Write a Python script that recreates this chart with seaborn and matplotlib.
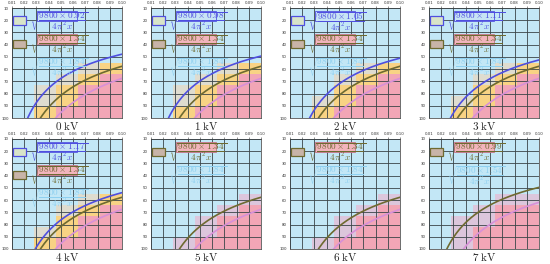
import numpy as np
import matplotlib
matplotlib.use("Agg")
import matplotlib.pyplot as plt
import seaborn as sb
from matplotlib.colors import ListedColormap
from matplotlib.patches import Rectangle

# ---- data ----
titluri = ["0 kV", "1 kV", "2 kV", "3 kV", "4 kV", "5 kV", "6 kV", "7 kV"]
k_albastru = [0.92, 0.98, 1.05, 1.11, 1.17, None, None, None]
k_maslin = [1.34, 1.34, 1.34, 1.34, 1.34, 1.34, 1.34, 0.99]
k_violet = [1.84, 1.84, 1.84, 1.84, 1.84, 1.84, 1.84, 1.54]

x_ticks = [0.01, 0.02, 0.03, 0.04, 0.05, 0.06, 0.07, 0.08, 0.09, 0.10]
y_ticks = [10, 20, 30, 40, 50, 60, 70, 80, 90, 100]
x_celule = [0.01, 0.028, 0.046, 0.064, 0.082, 0.10]
y_celule = [10, 19, 28, 37, 46, 55, 64, 73, 82, 91, 100]

# B blue, G grey, Y yellow, P pink, L lavender (one row per y band, 55..100)
celule = [
    ["BBBGY", "BBGYP", "BGYPP", "BGYPP", "BYPPP"],
    ["BBBGY", "BBGYP", "BGYPP", "BGYPP", "BYPPP"],
    ["BBBGY", "BBGYP", "BBYPP", "BGYPP", "BYPPP"],
    ["BBBGY", "BBGYP", "BBYPP", "BGYPP", "BYPPP"],
    ["BBBGY", "BBGYP", "BBYPP", "BGYPP", "BYPPP"],
    ["BBBBL", "BBBLP", "BBLPP", "BBLPP", "BLPPP"],
    ["BBBBL", "BBBLP", "BBLPP", "BBLPP", "BLPPP"],
    ["BBBLL", "BBLPP", "BLLPP", "BLPPP", "BLPPP"],
]

coduri = {"B": 0, "G": 1, "Y": 2, "P": 3, "L": 4}
culori_celule = ListedColormap(["#c3e7f6", "#dfdccf", "#f8d384", "#f2a6b6", "#dcc6dc"])

c_albastru = "#4f4fe0"
c_maslin = "#6e6a30"
c_violet = "#d890d8"
c_text3 = "#8fd0f0"

plt.rcParams["mathtext.fontset"] = "cm"
sb.set_style("white")

fig = plt.figure(figsize=(5.5, 2.64), dpi=100)

lefts = [12, 151, 290, 429]
bottoms = [118, 249]


def formula(k):
    return r"$\sqrt{\dfrac{9800\times %.2f}{4\pi^2x}}$" % k


def px(y):
    # px from the panel top -> axes fraction
    return 1 - (y - 8) / 110


for i in range(8):
    r, c = divmod(i, 4)
    ax = fig.add_axes([lefts[c] / 550, 1 - bottoms[r] / 264, 110 / 550, 110 / 264])

    grila = [[coduri[ch] for ch in "BBBBB"] for _ in range(5)]
    grila += [[coduri[ch] for ch in rand] for rand in celule[i]]
    ax.pcolormesh(x_celule, y_celule, np.array(grila), cmap=culori_celule,
                  vmin=-0.5, vmax=4.5, zorder=1)

    xs = np.linspace(0.01, 0.10, 300)
    for k, col in [(k_albastru[i], c_albastru), (k_maslin[i], c_maslin), (k_violet[i], c_violet)]:
        if k is None:
            continue
        ys = np.sqrt(9800 * k / (4 * np.pi ** 2 * xs))
        sb.lineplot(x=xs, y=ys, ax=ax, color=col, lw=1.2, zorder=3)

    ax.set_xlim(0.01, 0.10)
    ax.set_ylim(100, 10)
    ax.xaxis.tick_top()
    ax.set_xticks(x_ticks)
    ax.set_xticklabels(["%.2f" % v for v in x_ticks])
    ax.set_yticks(y_ticks)
    ax.set_yticklabels([str(v) for v in y_ticks])
    ax.tick_params(labelsize=2.8, length=1.2, width=0.4, pad=1, colors="#333333")
    ax.set_axisbelow(False)
    ax.grid(True, color="#3a4448", lw=0.6, zorder=2.5)
    for s in ax.spines.values():
        s.set_color("#555555")
        s.set_linewidth(0.6)
    ax.set_xlabel("")
    ax.set_ylabel("")

    # formulas with their swatches
    randuri = []
    if k_albastru[i] is not None:
        randuri.append((k_albastru[i], c_albastru, "#d8e4c8", c_albastru, "#c8e4f4", c_albastru))
    randuri.append((k_maslin[i], c_maslin, "#c8b4a8", c_maslin, "#f2b4bc", "#c07080"))
    randuri.append((k_violet[i], c_text3, None, None, None, None))

    for j, (k, col, fata, margine, fundal, m_fundal) in enumerate(randuri):
        y0 = 10.5 + 23 * j  # top of the formula, px inside the panel
        if fata is not None:
            ax.add_patch(Rectangle((0.01, px(y0 + 14)), 0.12, 8 / 110,
                                   transform=ax.transAxes, facecolor=fata,
                                   edgecolor=margine, lw=0.9, zorder=4))
        if fundal is not None:
            ax.add_patch(Rectangle((0.225, px(y0 + 10)), 0.365, 9.5 / 110,
                                   transform=ax.transAxes, facecolor=fundal,
                                   edgecolor=m_fundal, lw=0.6, zorder=4))
        ax.text(0.16, px(y0), formula(k), transform=ax.transAxes, color=col,
                fontsize=6.6, va="top", ha="left", zorder=5)

    ax.text(0.5, -0.075, r"$\mathrm{%s}$" % titluri[i].replace(" ", r"\ "),
            transform=ax.transAxes, ha="center", va="center", fontsize=8)

fig.savefig("out.png", dpi=100)
